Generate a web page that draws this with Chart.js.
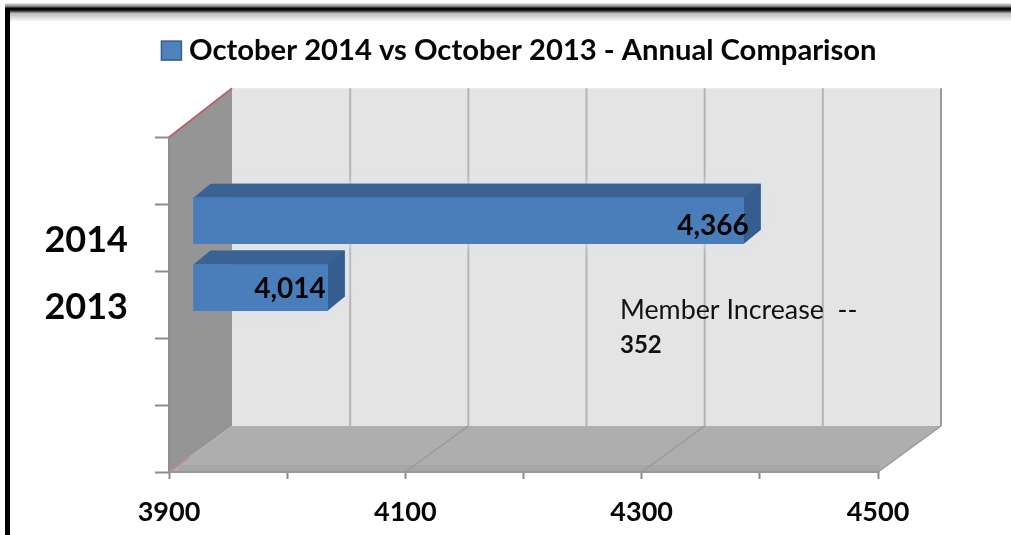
<!DOCTYPE html>
<html>
<head>
<meta charset="utf-8">
<style>
  html, body { margin: 0; padding: 0; background: #fff; }
  canvas { display: block; }
</style>
<script src="https://cdn.jsdelivr.net/npm/chart.js@4"></script>
</head>
<body>
<canvas id="memberChart" width="1011" height="535"></canvas>
<script>
const categories = ['', '2014', '2013', '', ''];
const memberCounts = [null, 4366, 4014, null, null];
const xTickLabels = ['3900', '4100', '4300', '4500'];
const seriesName = 'October 2014 vs October 2013 - Annual Comparison';
const noteLine = 'Member Increase  --';
const noteValue = '352';

// box depth of the fake 3D plot, and of the bars inside it
const DEPTH = { x: 63, top: -49, bottom: -46 };
const BAR_SHIFT = { x: 24, y: -17 };
const BAR_DEPTH = { x: 17, y: -14 };
const FONT = 'Lato, "Open Sans", sans-serif';
const LEGEND_PADDING = 10;
const LEGEND_SIZE = 29.2;

function poly(ctx, pts, fill) {
  ctx.beginPath();
  pts.forEach((p, i) => i ? ctx.lineTo(p[0], p[1]) : ctx.moveTo(p[0], p[1]));
  ctx.closePath();
  ctx.fillStyle = fill;
  ctx.fill();
}

function line(ctx, x1, y1, x2, y2, color, width) {
  ctx.beginPath();
  ctx.moveTo(x1, y1);
  ctx.lineTo(x2, y2);
  ctx.strokeStyle = color;
  ctx.lineWidth = width || 1;
  ctx.stroke();
}

const plot3d = {
  id: 'plot3d',
  afterLayout(chart) {
    // legend is not centred over the plot in the original
    chart.legend.left += 80;
    chart.legend.right += 80;
    chart.legend.top = 26;
    chart.legend.adjustHitBoxes();
  },
  beforeDraw(chart) {
    const ctx = chart.ctx;
    ctx.save();
    ctx.fillStyle = '#fff';
    ctx.fillRect(0, 0, chart.width, chart.height);
    // picture frame, top and left only
    const g = ctx.createLinearGradient(0, 3, 0, 22);
    g.addColorStop(0, '#eeeeee');
    g.addColorStop(0.2, '#777777');
    g.addColorStop(0.27, '#000000');
    g.addColorStop(0.38, '#111111');
    g.addColorStop(0.55, '#bbbbbb');
    g.addColorStop(1, '#ffffff');
    ctx.fillStyle = g;
    ctx.fillRect(5, 3, chart.width - 5, 19);
    ctx.fillStyle = '#000';
    ctx.fillRect(5, 8, 5, chart.height - 8);
    ctx.restore();
  },
  beforeDatasetsDraw(chart) {
    const ctx = chart.ctx;
    const a = chart.chartArea;
    const xs = chart.scales.x;
    const dx = DEPTH.x, backTop = a.top + DEPTH.top, backBottom = a.bottom + DEPTH.bottom;
    ctx.save();
    // back wall
    poly(ctx, [[a.left + dx, backTop], [a.right + dx, backTop], [a.right + dx, backBottom], [a.left + dx, backBottom]], '#e4e4e4');
    // left wall
    poly(ctx, [[a.left, a.top], [a.left + dx, backTop], [a.left + dx, backBottom], [a.left, a.bottom]], '#959595');
    // floor
    poly(ctx, [[a.left, a.bottom], [a.left + dx, backBottom], [a.right + dx, backBottom], [a.right, a.bottom]], '#aeaeae');
    ctx.fillStyle = '#a6a6a6';
    ctx.fillRect(a.left + 10, a.bottom - 7, a.right - a.left - 8, 7);
    // walls' gridlines and the floor diagonals
    xs.ticks.forEach((t, i) => {
      const px = xs.getPixelForTick(i);
      if (i > 0) line(ctx, px + dx, backTop, px + dx, backBottom, i === xs.ticks.length - 1 ? '#9c9c9c' : '#b4b4b4', 2);
      if (i % 2 === 0 && i > 0) line(ctx, px, a.bottom, px + dx, backBottom, '#999999', 1.5);
    });
    line(ctx, a.left, a.top, a.left, a.bottom, '#8f8f8f', 2);
    line(ctx, a.left, a.bottom, a.right, a.bottom, '#999999', 2);
    // reddish edges on the left wall
    line(ctx, a.left, a.top, a.left + dx, backTop, '#b5656a', 2);
    line(ctx, a.left, a.bottom, a.left + 20, a.bottom - 15, '#b98a90', 2);
    ctx.restore();
  },
  beforeDatasetDraw(chart, args) {
    const ctx = chart.ctx;
    const a = chart.chartArea;
    const ox = BAR_DEPTH.x, oy = BAR_DEPTH.y;
    const faces = args.meta.data.filter((bar, i) => memberCounts[i] !== null);
    ctx.save();
    ctx.translate(BAR_SHIFT.x, BAR_SHIFT.y);
    // soft pale halo the original has round the bars, back wall only
    ctx.save();
    ctx.beginPath();
    ctx.rect(a.left + DEPTH.x - BAR_SHIFT.x, a.top, a.width, a.height);
    ctx.clip();
    ctx.shadowColor = '#d6e4f6';
    ctx.shadowBlur = 12;
    faces.forEach(bar => {
      const top = bar.y - bar.height / 2;
      const bottom = bar.y + bar.height / 2;
      poly(ctx, [[bar.base, top], [bar.base + ox, top + oy], [bar.x + ox, top + oy], [bar.x + ox, bottom + oy], [bar.x, bottom], [bar.base, bottom]], '#3a6394');
    });
    ctx.restore();
    ctx.save();
    faces.forEach(bar => {
      const top = bar.y - bar.height / 2;
      const bottom = bar.y + bar.height / 2;
      poly(ctx, [[bar.base, top], [bar.base + ox, top + oy], [bar.x + ox, top + oy], [bar.x, top]], '#3a6394');
      poly(ctx, [[bar.x, top], [bar.x + ox, top + oy], [bar.x + ox, bottom + oy], [bar.x, bottom]], '#355d8f');
    });
    ctx.restore();
  },
  afterDatasetDraw(chart) {
    chart.ctx.restore();
  },
  afterDatasetsDraw(chart) {
    const ctx = chart.ctx;
    const meta = chart.getDatasetMeta(0);
    const nudge = [null, { x: 5, y: 5 }, { x: -2, y: 1 }];
    ctx.save();
    ctx.fillStyle = '#050505';
    ctx.textBaseline = 'middle';
    ctx.textAlign = 'right';
    ctx.font = 'bold 28px ' + FONT;
    meta.data.forEach((bar, i) => {
      if (memberCounts[i] === null) return;
      ctx.fillText(memberCounts[i].toLocaleString('en-US'), bar.x + BAR_SHIFT.x + nudge[i].x, bar.y + BAR_SHIFT.y + nudge[i].y);
    });
    ctx.textAlign = 'left';
    ctx.font = '26.8px ' + FONT;
    ctx.fillStyle = '#111';
    ctx.fillText(noteLine, 620, 310);
    ctx.font = 'bold 24px ' + FONT;
    ctx.fillText(noteValue, 620, 345);
    ctx.restore();
  },
  afterDraw(chart) {
    // legend swatch is wider than the gap chart.js leaves before the text
    const ctx = chart.ctx;
    const hit = chart.legend.legendHitBoxes[0];
    const cy = chart.legend.top + LEGEND_PADDING + LEGEND_SIZE / 2;
    ctx.save();
    ctx.fillStyle = '#4f81bd';
    ctx.strokeStyle = '#385d8a';
    ctx.lineWidth = 1.5;
    ctx.fillRect(hit.left, cy - 9.5, 20, 19);
    ctx.strokeRect(hit.left, cy - 9.5, 20, 19);
    ctx.restore();
  }
};

new Chart(document.getElementById('memberChart'), {
  type: 'bar',
  data: {
    labels: categories,
    datasets: [{
      label: seriesName,
      data: memberCounts,
      backgroundColor: '#4a7ebb',
      borderWidth: 0,
      barThickness: 46,
      base: 3900,
      clip: false
    }]
  },
  plugins: [plot3d],
  options: {
    indexAxis: 'y',
    responsive: false,
    animation: false,
    layout: { padding: { top: 88, right: 133, left: 0, bottom: 0 } },
    plugins: {
      tooltip: { enabled: false },
      legend: {
        position: 'top',
        labels: {
          boxWidth: 13,
          boxHeight: 18,
          padding: LEGEND_PADDING,
          color: '#050505',
          font: { family: FONT, size: LEGEND_SIZE, weight: 'bold' }
        }
      }
    },
    scales: {
      x: {
        type: 'linear',
        min: 3900,
        max: 4500,
        afterFit: s => { s.height = 63; },
        border: { display: false },
        grid: { drawOnChartArea: false, tickLength: 7, tickColor: '#8c8c8c', tickWidth: 2 },
        ticks: {
          stepSize: 100,
          autoSkip: false,
          maxRotation: 0,
          padding: 17,
          color: '#050505',
          font: { family: FONT, size: 27, weight: 'bold' },
          callback: v => xTickLabels.includes(String(v)) ? String(v) : ''
        }
      },
      y: {
        afterFit: s => { s.width = 169; },
        border: { display: false },
        grid: { offset: true, drawOnChartArea: false, tickLength: 14, tickColor: '#8c8c8c', tickWidth: 2 },
        ticks: {
          autoSkip: false,
          padding: 27,
          labelOffset: 3,
          color: '#050505',
          font: { family: FONT, size: 36, weight: 'bold' }
        }
      }
    }
  }
});
</script>
</body>
</html>
